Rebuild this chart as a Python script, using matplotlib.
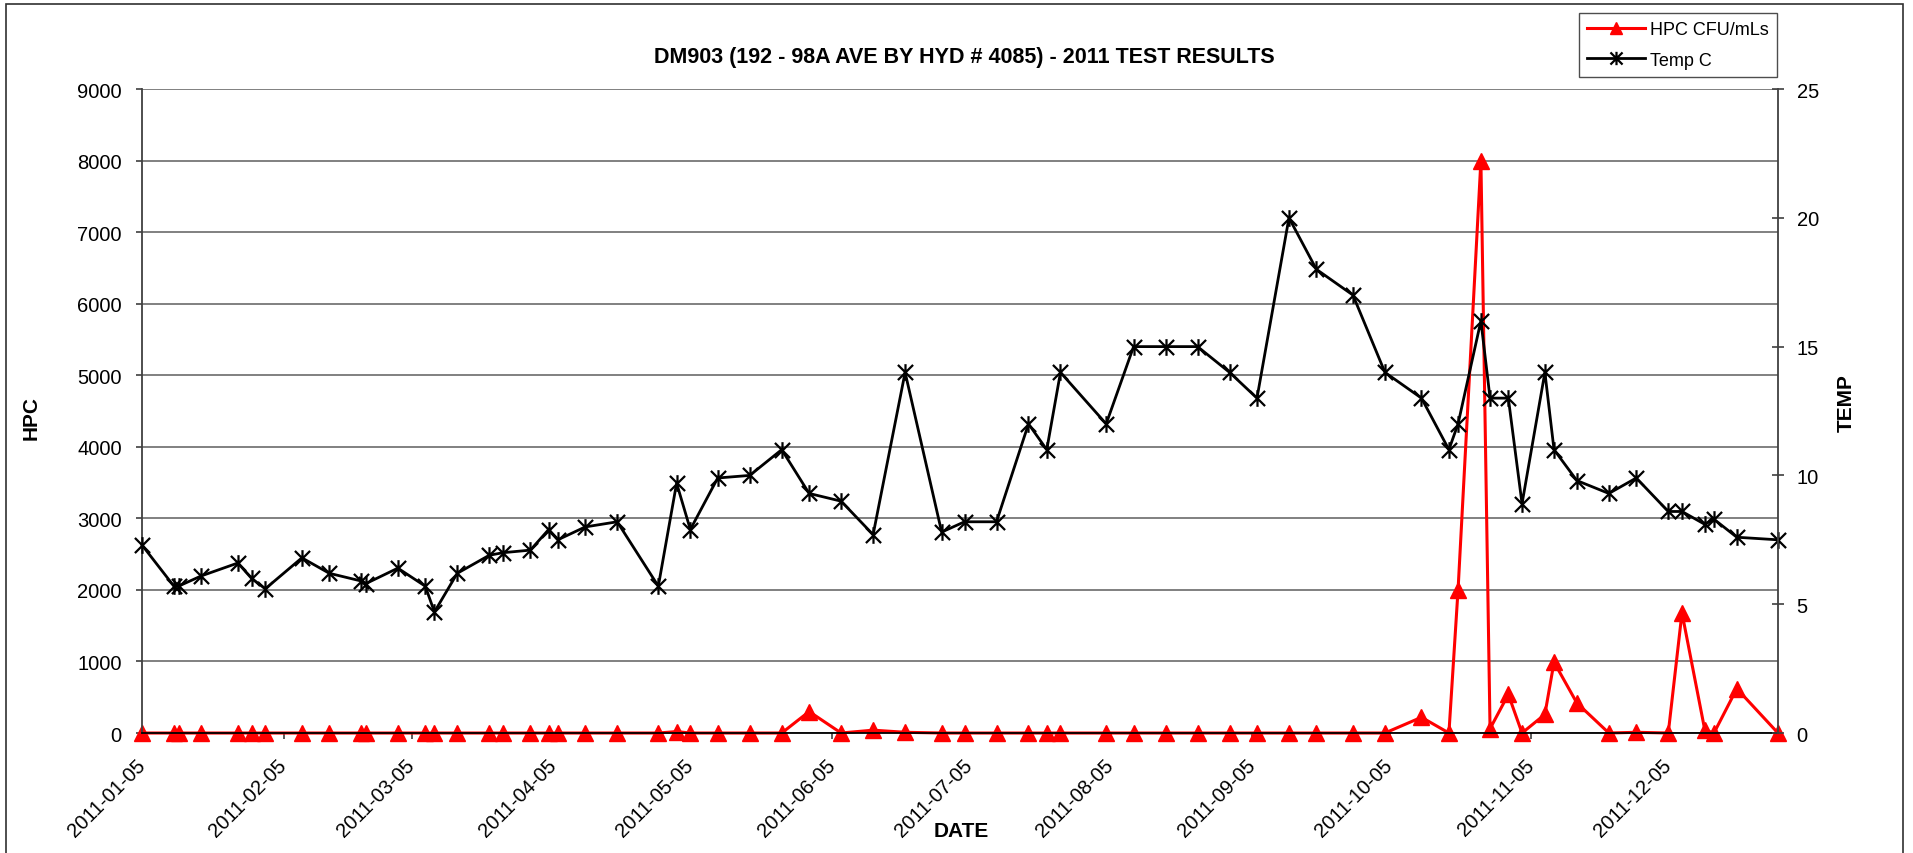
import matplotlib
matplotlib.use("Agg")
import matplotlib.pyplot as plt
import matplotlib.dates as mdates
from matplotlib.path import Path
from matplotlib.patches import Rectangle
import pandas as pd

plt.rcParams["font.family"] = ["Liberation Sans", "DejaVu Sans"]

# sampling dates shared by both series
sample_dates = [
    "2011-01-05", "2011-01-12", "2011-01-13", "2011-01-18", "2011-01-26", "2011-01-29",
    "2011-02-01", "2011-02-09", "2011-02-15", "2011-02-22", "2011-02-23", "2011-03-02",
    "2011-03-08", "2011-03-10", "2011-03-15", "2011-03-22", "2011-03-25", "2011-03-31",
    "2011-04-04", "2011-04-06", "2011-04-12", "2011-04-19", "2011-04-28", "2011-05-02",
    "2011-05-05", "2011-05-11", "2011-05-18", "2011-05-25", "2011-05-31", "2011-06-07",
    "2011-06-14", "2011-06-21", "2011-06-29", "2011-07-04", "2011-07-11", "2011-07-18",
    "2011-07-22", "2011-07-25", "2011-08-04", "2011-08-10", "2011-08-17", "2011-08-24",
    "2011-08-31", "2011-09-06", "2011-09-13", "2011-09-19", "2011-09-27", "2011-10-04",
    "2011-10-12", "2011-10-18", "2011-10-20", "2011-10-25", "2011-10-27", "2011-10-31",
    "2011-11-03", "2011-11-08", "2011-11-10", "2011-11-15", "2011-11-22", "2011-11-28",
    "2011-12-05", "2011-12-08", "2011-12-13", "2011-12-15", "2011-12-20", "2011-12-29",
]

hpc_cfu = [
    0, 0, 0, 0, 0, 0,
    0, 0, 0, 0, 0, 0,
    0, 0, 0, 0, 0, 0,
    0, 0, 0, 0, 0, 20,
    0, 0, 0, 0, 300, 0,
    40, 10, 0, 0, 0, 0,
    0, 0, 0, 0, 0, 0,
    0, 0, 0, 0, 0, 0,
    220, 0, 2000, 8000, 60, 540,
    0, 260, 990, 420, 0, 10,
    0, 1680, 40, 0, 620, 0,
]

temp_c = [
    7.3, 5.7, 5.7, 6.1, 6.6, 6.0,
    5.6, 6.8, 6.2, 5.9, 5.8, 6.4,
    5.7, 4.7, 6.2, 6.9, 7.0, 7.1,
    7.9, 7.5, 8.0, 8.2, 5.7, 9.7,
    7.9, 9.9, 10.0, 11.0, 9.3, 9.0,
    7.7, 14.0, 7.8, 8.2, 8.2, 12.0,
    11.0, 14.0, 12.0, 15.0, 15.0, 15.0,
    14.0, 13.0, 20.0, 18.0, 17.0, 14.0,
    13.0, 11.0, 12.0, 16.0, 13.0, 13.0,
    8.9, 14.0, 11.0, 9.8, 9.3, 9.9,
    8.6, 8.6, 8.1, 8.3, 7.6, 7.5,
]

month_ticks = [
    "2011-01-05", "2011-02-05", "2011-03-05", "2011-04-05", "2011-05-05", "2011-06-05",
    "2011-07-05", "2011-08-05", "2011-09-05", "2011-10-05", "2011-11-05", "2011-12-05",
]

dates = pd.to_datetime(sample_dates)
ticks = pd.to_datetime(month_ticks)

# X with a vertical bar, like the spreadsheet "star" marker
star = Path(
    [(-1, -1), (1, 1), (-1, 1), (1, -1), (0, -1.1), (0, 1.1)],
    [Path.MOVETO, Path.LINETO, Path.MOVETO, Path.LINETO, Path.MOVETO, Path.LINETO],
)

fig = plt.figure(figsize=(19.13, 8.54), dpi=100)
ax = fig.add_axes([0.0742, 0.1405, 0.8552, 0.7541])
ax2 = ax.twinx()

(l1,) = ax.plot(dates, hpc_cfu, color="#ff0000", lw=2.2, marker="^", ms=11,
                mec="#ff0000", mfc="#ff0000", clip_on=False, label="HPC CFU/mLs")
(l2,) = ax2.plot(dates, temp_c, color="black", lw=2.0, marker=star, ms=12,
                 mew=1.6, mfc="none", mec="black", clip_on=False, label="Temp C")

ax.set_xlim(dates[0], dates[-1])
ax.set_ylim(0, 9000)
ax.set_yticks(range(0, 9001, 1000))
ax2.set_ylim(0, 25)
ax2.set_yticks(range(0, 26, 5))

ax.yaxis.grid(True, color="#808080", lw=1.4)
ax.set_axisbelow(True)

ax.set_xticks(ticks)
ax.xaxis.set_major_formatter(mdates.DateFormatter("%Y-%m-%d"))
for lbl in ax.get_xticklabels():
    lbl.set_rotation(45)
    lbl.set_ha("right")
    lbl.set_va("center")
    lbl.set_rotation_mode("anchor")

for a in (ax, ax2):
    a.spines["top"].set_visible(False)
ax.spines["right"].set_visible(False)
ax2.spines["left"].set_visible(False)
ax2.spines["bottom"].set_visible(False)
ax.spines["left"].set_color("#404040")
ax.spines["left"].set_linewidth(1.3)
ax2.spines["right"].set_color("#404040")
ax2.spines["right"].set_linewidth(1.3)
ax.spines["bottom"].set_color("black")
ax.spines["bottom"].set_linewidth(1.3)

ax.tick_params(axis="y", direction="out", length=4.5, width=1.2, color="#404040",
               labelsize=14.5, pad=10)
ax.tick_params(axis="x", direction="out", length=4.5, width=1.2, color="#404040",
               labelsize=14.5, pad=16)
ax2.tick_params(axis="y", direction="inout", length=9, width=1.2, color="#404040",
                labelsize=14.5, pad=9)

ax.set_ylabel("HPC", fontsize=15, fontweight="bold")
ax.yaxis.set_label_coords(-0.0617, 0.49)
ax2.set_ylabel("TEMP", fontsize=15, fontweight="bold")
ax2.yaxis.set_label_coords(1.0358, 0.514)
ax.set_xlabel("DATE", fontsize=15, fontweight="bold")
ax.xaxis.set_label_coords(0.5006, -0.137)

fig.text(0.504, 0.933, "DM903 (192 - 98A AVE BY HYD # 4085) - 2011 TEST RESULTS",
         ha="center", va="center", fontsize=15.5, fontweight="bold")

leg = fig.legend(handles=[l1, l2], loc="upper right", bbox_to_anchor=(0.929, 0.9836),
                 borderaxespad=0, fontsize=13, frameon=True, fancybox=False,
                 edgecolor="#202020", handlelength=3.2, handletextpad=0.3,
                 labelspacing=0.75, borderpad=0.45, markerscale=0.8)
leg.get_frame().set_linewidth(1.0)

# chart area border
fig.patches.append(Rectangle((6 / 1913, -0.05), 1897 / 1913, 1.05 - 5 / 854,
                             transform=fig.transFigure, fill=False,
                             edgecolor="#303030", lw=1.2))

fig.savefig("out.png", dpi=100)
